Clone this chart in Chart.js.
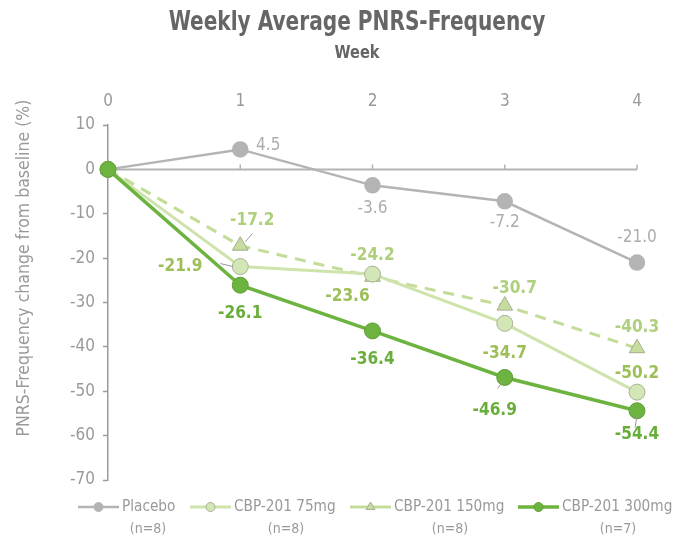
<!DOCTYPE html>
<html>
<head>
<meta charset="utf-8">
<script src="https://cdn.jsdelivr.net/npm/chart.js@4/dist/chart.umd.min.js"></script>
<style>
html,body{margin:0;padding:0;background:#fff;}
#wrap{width:677px;height:538px;}
</style>
</head>
<body>
<div id="wrap"><canvas id="c" width="677" height="538"></canvas></div>
<script>
// ---- data ----
const weeks = ['0', '1', '2', '3', '4'];
const placebo = [0, 4.5, -3.6, -7.2, -21.0];
const cbp75 = [0, -21.9, -23.6, -34.7, -50.2];
const cbp150 = [0, -17.2, -24.2, -30.7, -40.3];
const cbp300 = [0, -26.1, -36.4, -46.9, -54.4];
const seriesNames = ['Placebo', 'CBP-201 75mg', 'CBP-201 150mg', 'CBP-201 300mg'];
const nLabels = ['(n=8)', '(n=8)', '(n=8)', '(n=7)'];
const yTicks = [10, 0, -10, -20, -30, -40, -50, -60, -70];
const titleText = 'Weekly Average PNRS-Frequency';
const subtitleText = 'Week';
const yTitleText = 'PNRS-Frequency change from baseline (%)';

// ---- styling (label offsets in px relative to point; null = no label) ----
const FONT = "'Liberation Sans Narrow','DejaVu Sans Condensed',sans-serif";
const labelOffsets = [
  [null, [28, -4], [0, 23], [0, 21], [0, -25]],
  [null, [-60, 0], [-25, 22], [0, 30], [0, -19]],
  [null, [12, -25], [0, -21], [10, -17], [0, -21]],
  [null, [0, 28], [0, 28], [-10, 33], [0, 24]]
];
// leader lines [dx1, dy1, dx2, dy2] relative to point
const leaders = [
  [null, null, null, null, null],
  [null, [-20, -3, -7, 0], null, null, null],
  [null, [12, -12, 5, -4], null, null, null],
  [null, null, null, [-7, 11, -2, 3], [-2, 17, 0, 5]]
];

const labelColors = ['#adadad', '#9dbf58', '#aed07c', '#69ad3b'];
const labelWeights = ['normal', '600', '600', 'bold'];

const ds = [
  {label: seriesNames[0], data: placebo, borderColor: '#b4b4b4', backgroundColor: '#b4b4b4',
   pointBorderColor: '#b4b4b4', borderWidth: 2.5, pointRadius: 7, pointStyle: 'circle', order: 4},
  {label: seriesNames[1], data: cbp75, borderColor: '#cfe3ad', backgroundColor: '#d3e6b6',
   pointBorderColor: '#a9b397', pointBorderWidth: 1, borderWidth: 3, pointRadius: 8, pointStyle: 'circle', order: 2},
  {label: seriesNames[2], data: cbp150, borderColor: '#c3dc98', backgroundColor: '#c6dd9f',
   pointBorderColor: '#a3ad8e', pointBorderWidth: 1, borderWidth: 3, borderDash: [11, 8], pointRadius: 9, pointStyle: 'triangle', order: 3},
  {label: seriesNames[3], data: cbp300, borderColor: '#6cb33f', backgroundColor: '#6cb33f',
   pointBorderColor: '#5f9f37', pointBorderWidth: 1, borderWidth: 3.5, pointRadius: 8, pointStyle: 'circle', order: 1}
];
ds.forEach(d => { d.fill = false; d.tension = 0; d.pointHoverRadius = d.pointRadius; });

function squeezeText(ctx, text, x, y, sx) {
  ctx.save();
  ctx.translate(x, y);
  ctx.scale(sx, 1);
  ctx.fillText(text, 0, 0);
  ctx.restore();
}

const decor = {
  id: 'decor',
  beforeDatasetsDraw(chart) {
    const ctx = chart.ctx, x = chart.scales.x, y = chart.scales.y;
    const y0 = y.getPixelForValue(0);
    ctx.save();
    ctx.strokeStyle = '#b3b3b3';
    ctx.lineWidth = 2;
    ctx.beginPath();
    ctx.moveTo(x.left, y0); ctx.lineTo(x.right, y0); ctx.stroke();
    ctx.lineWidth = 1.5;
    for (let i = 1; i < weeks.length; i++) {
      const px = x.getPixelForValue(i);
      ctx.beginPath(); ctx.moveTo(px, y0 - 5); ctx.lineTo(px, y0); ctx.stroke();
    }
    ctx.restore();
  },
  afterDatasetsDraw(chart) {
    const ctx = chart.ctx;
    ctx.save();
    ctx.textAlign = 'center';
    ctx.textBaseline = 'middle';
    chart.data.datasets.forEach((d, di) => {
      const meta = chart.getDatasetMeta(di);
      meta.data.forEach((pt, i) => {
        const ld = leaders[di][i];
        if (ld) {
          ctx.strokeStyle = '#999';
          ctx.lineWidth = 1;
          ctx.beginPath();
          ctx.moveTo(pt.x + ld[0], pt.y + ld[1]);
          ctx.lineTo(pt.x + ld[2], pt.y + ld[3]);
          ctx.stroke();
        }
        const off = labelOffsets[di][i];
        if (!off) return;
        ctx.fillStyle = labelColors[di];
        ctx.font = labelWeights[di] + ' 18px ' + FONT;
        squeezeText(ctx, d.data[i].toFixed(1), pt.x + off[0], pt.y + off[1], 0.95);
      });
    });
    ctx.restore();
  },
  afterDraw(chart) {
    const ctx = chart.ctx;
    ctx.save();
    ctx.textAlign = 'center';
    ctx.textBaseline = 'middle';
    ctx.fillStyle = '#666';
    ctx.font = 'bold 26px ' + FONT;
    squeezeText(ctx, titleText, 357, 23, 0.86);
    ctx.font = 'bold 18px ' + FONT;
    squeezeText(ctx, subtitleText, 357, 53, 0.9);
    // y title
    ctx.save();
    ctx.translate(24, 268);
    ctx.rotate(-Math.PI / 2);
    ctx.fillStyle = '#9a9a9a';
    ctx.font = '17.5px ' + FONT;
    ctx.fillText(yTitleText, 0, 0);
    ctx.restore();
    // legend
    const xs = [78, 190, 350, 518];
    const ly = 507;
    chart.data.datasets.forEach((d, di) => {
      const x0 = xs[di];
      ctx.strokeStyle = d.borderColor;
      ctx.lineWidth = d.borderWidth;
      ctx.setLineDash([]);
      ctx.beginPath(); ctx.moveTo(x0, ly); ctx.lineTo(x0 + 41, ly); ctx.stroke();
      ctx.fillStyle = d.backgroundColor;
      ctx.strokeStyle = d.pointBorderColor;
      ctx.lineWidth = 1;
      Chart.helpers.drawPoint(ctx, {pointStyle: d.pointStyle, radius: d.pointStyle === 'triangle' ? 5 : 4.5, rotation: 0, borderWidth: 1}, x0 + 20.5, ly);
      ctx.fillStyle = '#999';
      ctx.font = '16px ' + FONT;
      ctx.textAlign = 'left';
      squeezeText(ctx, d.label, x0 + 44, ly, 0.95);
      ctx.textAlign = 'center';
      ctx.font = '14px ' + FONT;
      const nx = [148, 286, 450, 618][di];
      ctx.fillText(nLabels[di], nx, 529);
    });
    ctx.restore();
  }
};

new Chart(document.getElementById('c'), {
  type: 'line',
  data: {labels: weeks, datasets: ds},
  options: {
    responsive: false,
    animation: false,
    events: [],
    layout: {padding: {left: 48, right: 40, top: 72, bottom: 58}},
    plugins: {legend: {display: false}, title: {display: false}, tooltip: {enabled: false}},
    scales: {
      x: {
        position: 'top',
        offset: false,
        grid: {display: false},
        border: {display: false},
        ticks: {color: '#999', font: {family: FONT, size: 17}, padding: 5},
        afterFit(s) { s.height = 53; }
      },
      y: {
        min: -70, max: 10,
        afterBuildTicks(s) { s.ticks = yTicks.map(v => ({value: v})); },
        grid: {drawOnChartArea: false, tickLength: 5, tickColor: '#9a9a9a', tickWidth: 1.5},
        border: {display: true, color: '#9a9a9a', width: 1.5},
        ticks: {color: '#9a9a9a', font: {family: FONT, size: 17}, padding: 8},
        afterFit(s) { s.width = 60; }
      }
    }
  },
  plugins: [decor]
});
</script>
</body>
</html>
